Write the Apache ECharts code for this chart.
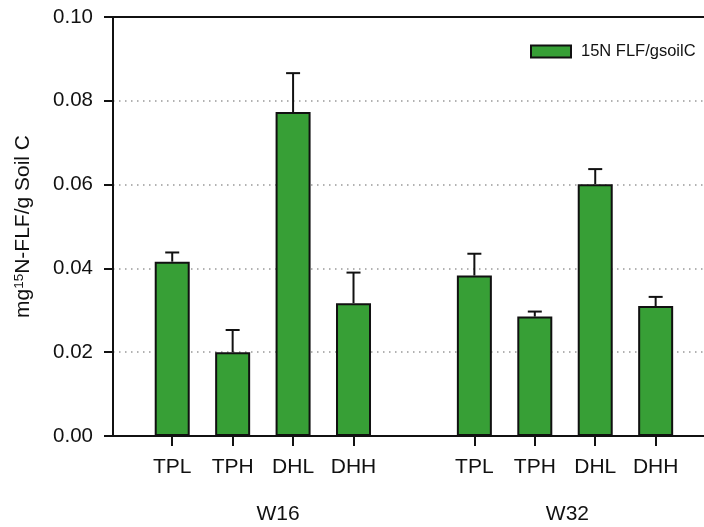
<!DOCTYPE html>
<html>
<head>
<meta charset="utf-8">
<script src="https://cdn.jsdelivr.net/npm/echarts@6/dist/echarts.min.js"></script>
<style>
html,body{margin:0;padding:0;background:#fff;}
#chart{width:704px;height:527px;}
</style>
</head>
<body>
<div id="chart"></div>
<script>
// ---- data ----
const categories = ['TPL', 'TPH', 'DHL', 'DHH'];
const groups = ['W16', 'W32'];
const w16Mean = [0.0416, 0.0200, 0.0773, 0.0317];
const w16Err  = [0.0022, 0.0053, 0.0093, 0.0073];
const w32Mean = [0.0383, 0.0285, 0.0601, 0.0310];
const w32Err  = [0.0052, 0.0012, 0.0036, 0.0022];
const yTicks = [0, 0.02, 0.04, 0.06, 0.08, 0.10];
const seriesName = '15N FLF/gsoilC';

// ---- build slot positions (one empty slot between the two groups) ----
const means = [w16Mean, w32Mean];
const errs = [w16Err, w32Err];
const barData = [];
const errData = [];
const tickPos = [];
const tickName = {};
groups.forEach((g, gi) => {
  categories.forEach((c, ci) => {
    const pos = gi * (categories.length + 1) + ci + 1;
    tickPos.push(pos);
    tickName[pos] = c;
    barData.push([pos, means[gi][ci]]);
    errData.push([pos, means[gi][ci], means[gi][ci] + errs[gi][ci]]);
  });
});
const groupPos = [2.75, 7.54];
const groupName = {};
groupPos.forEach((p, i) => groupName[p] = groups[i]);

const FONT = 'Liberation Sans, Arial, sans-serif';
const XMIN = 0.02, XMAX = 9.8;

const chart = echarts.init(document.getElementById('chart'), null, {renderer: 'canvas'});
chart.setOption({
  animation: false,
  textStyle: {fontFamily: FONT, color: '#111'},
  grid: {left: 113, top: 17, right: 0, bottom: 91, containLabel: false},
  legend: {
    data: [seriesName],
    left: 525, top: 38,
    itemWidth: 40, itemHeight: 12,
    icon: 'rect',
    itemStyle: {borderColor: '#111', borderWidth: 2},
    textStyle: {fontFamily: FONT, fontSize: 16.5, color: '#111', padding: [0, 0, 0, 5]}
  },
  xAxis: [
    {
      type: 'value', min: XMIN, max: XMAX,
      axisLine: {show: true, onZero: false, lineStyle: {color: '#111', width: 2}},
      axisTick: {show: true, length: 10, customValues: tickPos, lineStyle: {color: '#111', width: 2}},
      axisLabel: {customValues: tickPos, formatter: v => tickName[v] || '', fontSize: 21, color: '#111', margin: 21, fontFamily: FONT},
      splitLine: {show: false}
    },
    {
      type: 'value', min: XMIN, max: XMAX, position: 'bottom',
      axisLine: {show: false}, axisTick: {show: false},
      axisLabel: {customValues: groupPos, formatter: v => groupName[v] || '', fontSize: 21, color: '#111', margin: 68, fontFamily: FONT},
      splitLine: {show: false}
    },
    {
      type: 'value', min: XMIN, max: XMAX, position: 'top',
      axisLine: {show: true, lineStyle: {color: '#111', width: 2}},
      axisTick: {show: false}, axisLabel: {show: false}, splitLine: {show: false}
    }
  ],
  yAxis: {
    type: 'value', min: 0, max: 0.1, interval: 0.02,
    name: 'mg{sup|15}N-FLF/g Soil C',
    nameLocation: 'middle', nameGap: 78, nameRotate: 90,
    nameTextStyle: {
      fontFamily: FONT, fontSize: 21, color: '#111',
      rich: {sup: {fontSize: 13.5, verticalAlign: 'top', fontFamily: FONT, color: '#111', padding: [0, 0, 9, 0]}}
    },
    axisLine: {show: true, lineStyle: {color: '#111', width: 2}},
    axisTick: {show: true, length: 9, lineStyle: {color: '#111', width: 2}},
    axisLabel: {formatter: v => v.toFixed(2), fontSize: 20.5, color: '#111', margin: 20, fontFamily: FONT},
    splitLine: {show: true, lineStyle: {color: '#999', width: 1.5, type: [1.5, 4.5]}}
  },
  series: [
    {
      name: seriesName, type: 'bar', xAxisIndex: 0,
      data: barData, barWidth: 35,
      itemStyle: {color: '#379f36', borderColor: '#111', borderWidth: 2},
      z: 3
    },
    {
      type: 'custom', xAxisIndex: 0, data: errData, z: 4,
      renderItem: function (params, api) {
        const x = api.value(0);
        const base = api.coord([x, api.value(1)]);
        const top = api.coord([x, api.value(2)]);
        const cap = 7;
        return {
          type: 'group',
          children: [
            {type: 'line', shape: {x1: base[0], y1: base[1], x2: top[0], y2: top[1]}, style: {stroke: '#111', lineWidth: 2}},
            {type: 'line', shape: {x1: top[0] - cap, y1: top[1], x2: top[0] + cap, y2: top[1]}, style: {stroke: '#111', lineWidth: 2}}
          ]
        };
      }
    }
  ]
});
</script>
</body>
</html>
